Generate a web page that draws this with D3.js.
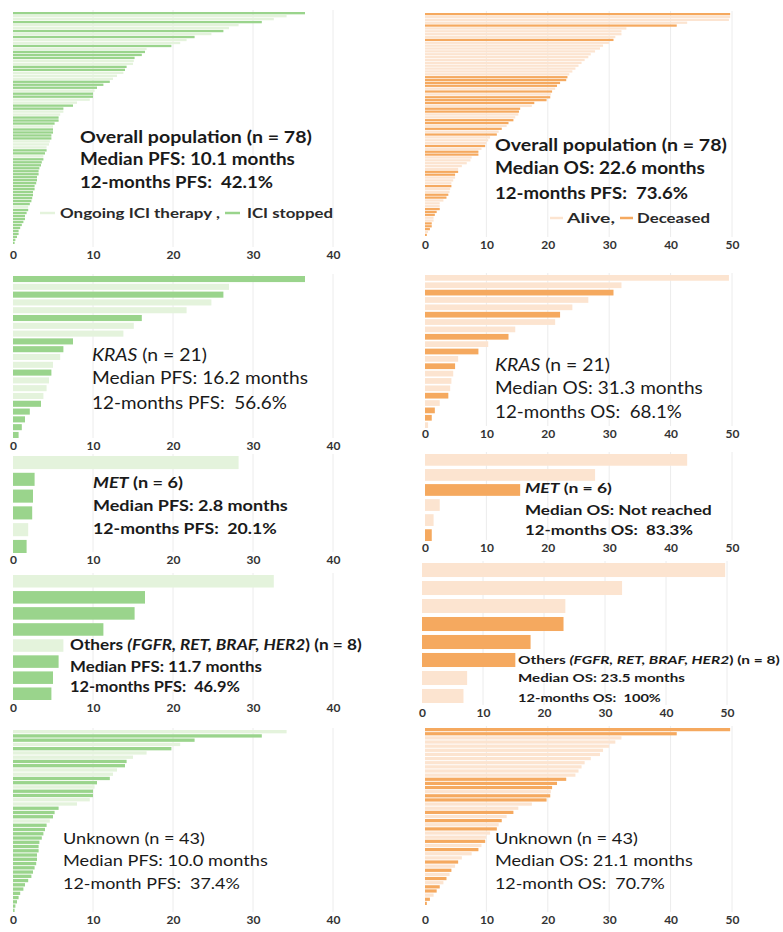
<!DOCTYPE html>
<html><head><meta charset="utf-8">
<script src="https://cdn.jsdelivr.net/npm/d3@7"></script>
<style>
body{margin:0;background:#fff}
text{font-family:Lato,"Open Sans",sans-serif;white-space:pre}
</style>
</head><body>
<svg id="chart" width="783" height="932"></svg>
<script>
// ---------------- DATA ----------------
const pfsTicks = [0, 10, 20, 30, 40];
const osTicks = [0, 10, 20, 30, 40, 50];

// PFS (months); stopped: 1 = ICI stopped, 0 = ongoing ICI therapy
const overallPfs = [36.5,34.2,32.6,31.1,28.2,27.0,26.3,24.8,22.7,21.7,20.9,19.8,16.7,16.5,16.1,15.2,15.1,15.0,14.2,14.0,13.8,13.0,12.5,12.1,11.3,10.5,10.2,10.0,10.0,9.6,8.0,7.5,6.3,6.3,5.9,5.7,5.7,5.2,5.0,5.0,5.0,4.8,4.8,4.6,4.5,4.2,4.2,4.0,3.8,3.8,3.6,3.5,3.3,3.2,3.2,3.0,3.0,2.9,2.7,2.7,2.5,2.5,2.4,2.3,2.1,1.9,1.9,1.7,1.5,1.5,1.3,1.1,0.9,0.7,0.7,0.5,0.3,0.2];
const overallPfsStopped = [1,0,0,1,0,0,1,0,1,0, 0,1,0,1,1,1,0,0,1,1, 0,0,0,1,1,1,0,1,1,0, 0,1,1,0,0,1,1,1,0,1, 1,1,1,0,0,0,1,1,0,1, 1,1,1,1,1,1,1,1,1,1, 1,1,1,1,1,0,1,1,1,1, 1,1,1,1,1,1,1,1];
const krasPfs = [36.5,27.0,26.3,24.8,21.7,16.1,15.1,13.8,7.5,6.3,5.9,5.0,4.8,4.5,4.2,3.8,3.5,2.1,1.5,1.1,0.7];
const krasPfsStopped = [1,0,1,0,0,1,0,0,1,1,0,0,1,0,0,0,1,1,1,1,1];
const metPfs = [28.2,2.7,2.5,2.4,1.9,1.7];
const metPfsStopped = [0,1,1,1,0,1];
const othersPfs = [32.6,16.5,15.2,11.3,6.3,5.7,5.0,4.8];
const othersPfsStopped = [0,1,1,1,0,1,1,1];
const unknownPfs = [34.2,31.1,22.7,20.9,19.8,16.7,15.0,14.2,14.0,13.0,12.5,12.1,10.5,10.2,10.0,10.0,9.6,8.0,5.7,5.2,5.0,4.6,4.2,4.0,3.8,3.6,3.3,3.2,3.2,3.0,3.0,2.9,2.7,2.5,2.3,1.9,1.5,1.3,0.9,0.7,0.5,0.3,0.2];
const unknownPfsStopped = [0,1,1,0,1,0,0,1,1,0, 0,1,1,0,1,1,0,0,1,1, 1,0,1,1,1,1,1,1,1,1, 1,1,1,1,1,1,1,1,1,1, 1,1,1];

// OS (months); deceased: 1 = deceased, 0 = alive
const overallOs = [49.7,49.7,49.5,42.7,41.0,32.8,32.0,32.0,31.0,30.7,30.0,29.0,28.5,27.7,27.0,26.6,26.0,25.5,25.0,24.5,24.0,23.5,23.2,23.0,22.0,21.5,21.2,20.7,20.5,20.4,19.8,17.8,17.4,15.5,15.3,15.2,14.7,14.4,13.6,13.3,12.5,12.0,11.7,10.6,10.3,10.0,9.8,9.2,8.7,8.7,7.6,7.4,6.8,6.0,5.4,5.4,4.9,4.9,4.6,4.3,4.3,4.1,4.0,3.8,3.5,3.0,2.4,2.4,2.4,1.9,1.6,1.4,1.4,1.1,1.1,0.8,0.5,0.3];
const overallOsDeceased = [1,0,0,0,1,0,0,0,0,1, 0,0,0,0,0,0,0,0,0,0, 0,0,1,1,1,1,0,1,0,1, 1,1,0,1,1,0,0,1,1,0, 1,0,1,0,0,0,1,0,1,1, 0,0,0,0,0,1,1,0,0,0, 1,0,0,1,1,0,0,0,1,1, 1,0,0,1,1,1,0,1];
const krasOs = [49.5,32.0,30.7,26.6,24.0,22.0,21.2,14.7,13.6,10.3,8.7,5.4,4.9,4.6,4.3,4.1,3.8,2.4,1.6,1.1,0.5];
const krasOsDeceased = [0,0,1,0,0,1,0,0,1,0,1,0,1,0,0,0,1,0,1,1,0];
const metOs = [42.7,27.7,15.5,2.4,1.4,1.1];
const metOsDeceased = [0,0,1,0,0,1];
const othersOs = [49.7,32.8,23.5,23.2,17.8,15.3,7.4,6.8];
const othersOsDeceased = [0,0,0,1,1,1,0,0];
const unknownOs = [49.7,41.0,32.0,31.0,30.0,29.0,28.5,27.0,26.0,25.5,25.0,24.5,23.0,21.5,20.7,20.5,20.4,19.8,17.4,15.2,14.4,13.3,12.5,12.0,11.7,10.6,10.0,9.8,9.2,8.7,7.6,6.0,5.4,4.9,4.3,4.0,3.5,3.0,2.4,1.9,1.4,0.8,0.3];
const unknownOsDeceased = [1,1,0,0,0,0,0,0,0,0, 0,0,1,1,1,0,1,1,0,0, 1,0,1,0,1,0,0,1,0,1, 0,0,1,0,1,0,1,0,1,1, 0,1,1];

// ---------------- DRAWING ----------------
const svg = d3.select("#chart");
const GREEN = ["#e4f3dc", "#9ad48c"];
const ORANGE = ["#fce4d0", "#f5a95f"];

function seg(t, it){ return {t:t, it:!!it}; }

const panels = [
  {vals:overallPfs, st:overallPfsStopped, col:GREEN, max:40, ticks:pfsTicks, xr:[13,333], y:[12,244], ty:255,
   tx:80, lines:[[[seg("Overall population (n = 78)")],137,232],[[seg("Median PFS: 10.1 months")],159,215],[[seg("12-months PFS:  42.1%")],182,193]], fs:17, fw:"bold",
   legend:{y:213, items:[[40,55,60,160,"Ongoing ICI therapy ,",0],[225,240,247,86,"ICI stopped",1]]}},
  {vals:overallOs, st:overallOsDeceased, col:ORANGE, max:50, ticks:osTicks, xr:[425,732], y:[13,236], ty:245,
   tx:495, lines:[[[seg("Overall population (n = 78)")],145,232],[[seg("Median OS: 22.6 months")],168,210],[[seg("12-months PFS:  73.6%")],193,193]], fs:17, fw:"bold",
   legend:{y:218, items:[[550,563,567,48,"Alive,",0],[620,633,637,73,"Deceased",1]]}},
  {vals:krasPfs, st:krasPfsStopped, col:GREEN, max:40, ticks:pfsTicks, xr:[13,333], y:[276,438], ty:446,
   tx:92, lines:[[[seg("KRAS",1),seg(" (n = 21)")],355,115],[[seg("Median PFS: 16.2 months")],378,216],[[seg("12-months PFS:  56.6%")],403,195]], fs:17, fw:"normal"},
  {vals:krasOs, st:krasOsDeceased, col:ORANGE, max:50, ticks:osTicks, xr:[425,732], y:[275,428], ty:434,
   tx:495, lines:[[[seg("KRAS",1),seg(" (n = 21)")],365,115],[[seg("Median OS: 31.3 months")],388,208],[[seg("12-months OS:  68.1%")],412,187]], fs:17, fw:"normal"},
  {vals:metPfs, st:metPfsStopped, col:GREEN, max:40, ticks:pfsTicks, xr:[13,333], y:[456,553], ty:560,
   tx:93, lines:[[[seg("MET",1),seg(" (n = 6)")],482,90],[[seg("Median PFS: 2.8 months")],505,195],[[seg("12-months PFS:  20.1%")],528,184]], fs:16, fw:"bold"},
  {vals:metOs, st:metOsDeceased, col:ORANGE, max:50, ticks:osTicks, xr:[425,732], y:[454,541], ty:548,
   tx:525, lines:[[[seg("MET",1),seg(" (n = 6)")],488,87],[[seg("Median OS: Not reached")],510,187],[[seg("12-months OS:  83.3%")],530,168]], fs:14, fw:"bold"},
  {vals:othersPfs, st:othersPfsStopped, col:GREEN, max:40, ticks:pfsTicks, xr:[13,333], y:[575,700], ty:708,
   tx:70, lines:[[[seg("Others "),seg("(FGFR, RET, BRAF, HER2",1),seg(") (n = 8)")],645,292],[[seg("Median PFS: 11.7 months")],667,192],[[seg("12-months PFS:  46.9%")],687,170]], fs:15, fw:"bold"},
  {vals:othersOs, st:othersOsDeceased, col:ORANGE, max:50, ticks:osTicks, xr:[422,727], y:[563,703], ty:713,
   tx:518, lines:[[[seg("Others "),seg("(FGFR, RET, BRAF, HER2",1),seg(") (n = 8)")],660,262],[[seg("Median OS: 23.5 months")],678,167],[[seg("12-months OS:  100%")],698,143]], fs:12, fw:"bold"},
  {vals:unknownPfs, st:unknownPfsStopped, col:GREEN, max:40, ticks:pfsTicks, xr:[13,333], y:[730,912], ty:920,
   tx:63, lines:[[[seg("Unknown (n = 43)")],838,142],[[seg("Median PFS: 10.0 months")],860,205],[[seg("12-month PFS:  37.4%")],883,177]], fs:16, fw:"normal"},
  {vals:unknownOs, st:unknownOsDeceased, col:ORANGE, max:50, ticks:osTicks, xr:[425,732], y:[728,905], ty:920,
   tx:495, lines:[[[seg("Unknown (n = 43)")],838,143],[[seg("Median OS: 21.1 months")],860,198],[[seg("12-month OS:  70.7%")],883,170]], fs:16, fw:"normal"}
];

function fitText(g, x, cy, segs, size, weight, targetW, fill){
  const t = g.append("text").attr("x",0).attr("y",0)
    .attr("font-size", size).attr("font-weight", weight).attr("fill", fill || "#1a1a1a");
  segs.forEach(s => t.append("tspan").attr("font-style", s.it ? "italic" : "normal").text(s.t));
  const w = t.node().getComputedTextLength();
  const sx = targetW ? targetW / w : 1;
  t.attr("transform", `translate(${x},${cy + size*0.35}) scale(${sx},1)`);
  return t;
}

panels.forEach(p => {
  const g = svg.append("g");
  const x = d3.scaleLinear().domain([0, p.max]).range(p.xr);
  const y = d3.scaleBand().domain(d3.range(p.vals.length)).range(p.y).paddingInner(0.22);

  // gridlines
  g.selectAll("line.grid").data(p.ticks.filter(d => d > 0)).join("line")
    .attr("x1", d => x(d)).attr("x2", d => x(d))
    .attr("y1", p.y[0] - 2).attr("y2", p.ty - 8)
    .attr("stroke", "#ececec").attr("stroke-width", 1);

  // bars
  g.selectAll("rect.bar").data(p.vals).join("rect")
    .attr("x", x(0)).attr("y", (d,i) => y(i))
    .attr("width", d => x(d) - x(0)).attr("height", y.bandwidth())
    .attr("fill", (d,i) => p.col[p.st[i]]);

  // axis
  const ax = g.append("g").attr("transform", `translate(0,${p.ty - 4.5})`)
    .call(d3.axisBottom(x).tickValues(p.ticks).tickSize(0).tickPadding(0).tickFormat(d3.format("d")));
  ax.select(".domain").remove();
  ax.selectAll("text").attr("font-size", 12).attr("font-weight", "bold").attr("fill", "#333333")
    .attr("font-family", "Lato, 'Open Sans', sans-serif");

  // annotations
  p.lines.forEach(l => fitText(g, p.tx, l[1], l[0], p.fs, p.fw, l[2]));

  // legend
  if (p.legend) {
    p.legend.items.forEach(it => {
      g.append("line").attr("x1", it[0]).attr("x2", it[1]).attr("y1", p.legend.y).attr("y2", p.legend.y)
        .attr("stroke", p.col[it[5]]).attr("stroke-width", 2.5);
      fitText(g, it[2], p.legend.y, [seg(it[4])], 13, "bold", it[3], "#2a2a2a");
    });
  }
});
</script>
</body></html>
